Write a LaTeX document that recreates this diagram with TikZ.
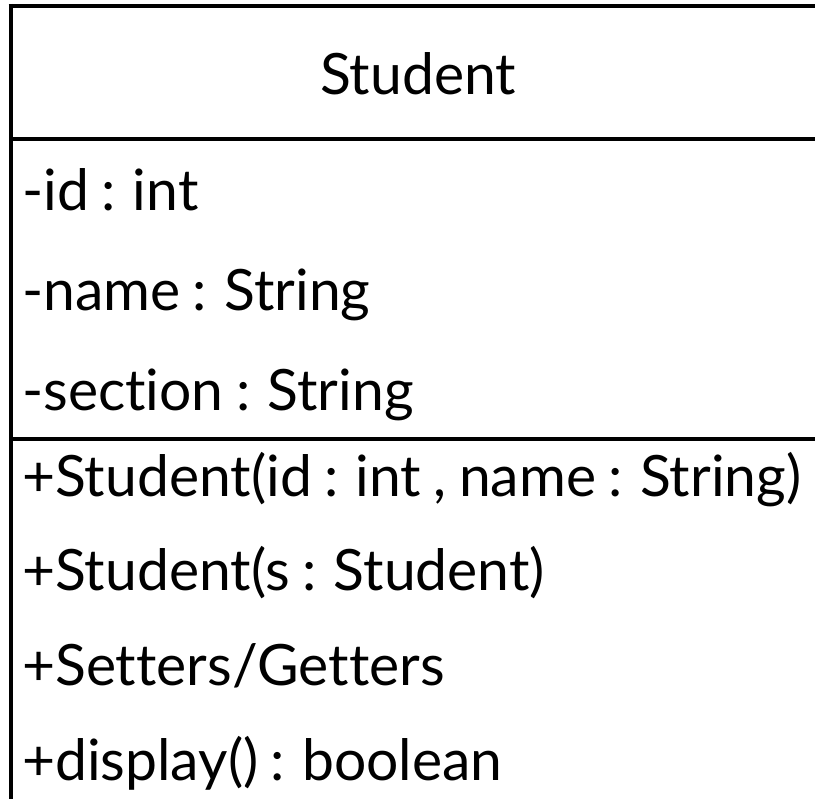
\documentclass[tikz,border=0pt]{standalone}
\usepackage{fontspec}
\setmainfont[Ligatures={NoCommon},WordSpace=0.85]{Lato}
\begin{document}
\begin{tikzpicture}[x=1pt,y=-1pt,
  member/.style={anchor=base west,inner sep=0pt,font=\fontsize{57}{60}\selectfont},
  title/.style={anchor=base,inner sep=0pt,font=\fontsize{57}{60}\selectfont},
  frame/.style={line width=4pt,black}]
  \useasboundingbox (0,0) rectangle (815,799);
  % class frame: top edge, left edge and the two compartment rules
  \draw[frame] (8.5,6) -- (815,6);
  \draw[frame] (10.5,4) -- (10.5,799);
  \draw[frame] (10.5,139.5) -- (815,139.5);
  \draw[frame,line width=3.5pt] (10.5,439) -- (815,439);
  % class name
  \node[title] (cname) at (418,95) {Student};
  % attributes
  \node[member] (a1) at (22,211) {-id : int};
  \node[member] (a2) at (22,311) {-name : String};
  \node[member] (a3) at (22,411) {-section : String};
  % operations
  \node[member] (m1) at (22,497) {+Student(id : int , name : String)};
  \node[member] (m2) at (22,591) {+Student(s : Student)};
  \node[member] (m3) at (22,686) {+Setters/Getters};
  \node[member] (m4) at (22,780) {+display() : boolean};
\end{tikzpicture}
\end{document}
